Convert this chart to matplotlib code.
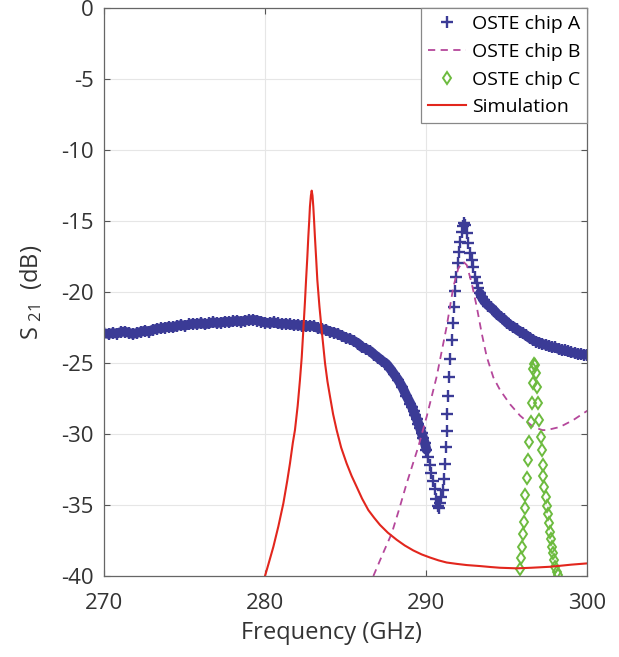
import matplotlib
matplotlib.use("Agg")
import matplotlib.pyplot as plt

plt.rcParams['font.family'] = ['Open Sans', 'DejaVu Sans']
plt.rcParams['axes.unicode_minus'] = False
plt.rcParams['mathtext.default'] = 'regular'

# OSTE chip A (measured, uniform-ish sweep; dense band + sparse resonance)
freq_a = [270.00, 270.25, 270.50, 270.75, 271.00, 271.25, 271.50, 271.75,
          272.00, 272.25, 272.50, 272.75, 273.00, 273.25, 273.50, 273.75,
          274.00, 274.25, 274.50, 274.75, 275.00, 275.25, 275.50, 275.75,
          276.00, 276.25, 276.50, 276.75, 277.00, 277.25, 277.50, 277.75,
          278.00, 278.25, 278.50, 278.75, 279.00, 279.25, 279.50, 279.75,
          280.00, 280.25, 280.50, 280.75, 281.00, 281.25, 281.50, 281.75,
          282.00, 282.25, 282.50, 282.75, 283.00, 283.25, 283.50, 283.75,
          284.00, 284.25, 284.50, 284.75, 285.00, 285.25, 285.50, 285.75,
          286.00, 286.25, 286.50, 286.75, 287.00, 287.25, 287.50, 287.75,
          288.00, 288.25, 288.50, 288.75, 289.00, 289.10, 289.20, 289.30,
          289.40, 289.50, 289.60, 289.70, 289.80, 289.90, 290.00, 290.10,
          290.20, 290.30, 290.40, 290.50, 290.60, 290.70, 290.75,
          290.82, 290.90, 291.00, 291.09, 291.15, 291.21, 291.25, 291.29,
          291.36, 291.42, 291.49, 291.56, 291.63, 291.69, 291.76, 291.85,
          291.93, 292.02, 292.10, 292.19, 292.27, 292.35, 292.42, 292.50,
          292.60, 292.70, 292.81, 292.91, 293.01, 293.12, 293.22, 293.32,
          293.43, 293.55, 293.70, 293.85, 294.00, 294.20, 294.40, 294.60,
          294.80, 295.00, 295.20, 295.40, 295.60, 295.80, 296.00, 296.20,
          296.40, 296.60, 296.80, 297.00, 297.20, 297.40, 297.60, 297.80,
          298.00, 298.20, 298.40, 298.60, 298.80, 299.00, 299.20, 299.40,
          299.60, 299.80, 300.00]
s21_a = [-22.90, -22.95, -22.88, -22.92, -22.82, -22.78, -22.86, -22.95,
         -22.88, -22.80, -22.72, -22.78, -22.65, -22.58, -22.55, -22.50,
         -22.44, -22.48, -22.38, -22.32, -22.36, -22.28, -22.22, -22.25,
         -22.18, -22.26, -22.20, -22.12, -22.18, -22.14, -22.08, -22.12,
         -22.05, -22.02, -22.08, -22.00, -21.98, -21.95, -22.00, -22.08,
         -22.15, -22.18, -22.12, -22.20, -22.24, -22.22, -22.28, -22.32,
         -22.30, -22.38, -22.42, -22.36, -22.40, -22.52, -22.60, -22.66,
         -22.78, -22.85, -22.95, -23.08, -23.22, -23.30, -23.45, -23.62,
         -23.88, -24.00, -24.15, -24.40, -24.62, -24.85, -25.05, -25.40,
         -25.80, -26.20, -26.70, -27.30, -27.85, -28.10, -28.40, -28.68,
         -28.95, -29.28, -29.60, -29.95, -30.30, -30.65, -31.10, -31.60,
         -32.20, -32.75, -33.30, -33.90, -34.55, -35.05, -35.20,
         -34.85, -34.45, -33.95, -33.19, -32.14, -30.94, -29.79, -28.59,
         -27.32, -26.00, -24.72, -23.35, -22.16, -21.03, -19.95, -18.90,
         -17.95, -17.15, -16.45, -15.74, -15.35, -15.15, -15.30, -15.86,
         -16.56, -17.27, -17.74, -18.21, -18.91, -19.38, -19.73, -20.08,
         -20.35, -20.58, -20.78, -20.95, -21.08, -21.30, -21.55, -21.75,
         -21.92, -22.15, -22.32, -22.45, -22.62, -22.78, -22.90, -23.05,
         -23.22, -23.36, -23.48, -23.55, -23.65, -23.72, -23.80, -23.88,
         -23.90, -24.00, -24.08, -24.10, -24.18, -24.25, -24.28, -24.35,
         -24.38, -24.40, -24.42]

# OSTE chip B
freq_b = [286.70, 287.30, 287.84, 288.30, 288.77, 289.49, 290.01, 290.63,
          291.25, 291.67, 291.98, 292.29, 292.50, 292.81, 293.12, 293.43,
          293.74, 294.15, 294.57, 295.19, 295.81, 296.63, 297.20, 297.47,
          298.29, 299.12, 299.74, 300.00]
s21_b = [-40.0, -38.4, -37.0, -35.3, -33.47, -30.9, -28.78, -25.96,
         -22.44, -19.62, -18.3, -17.86, -18.09, -19.38, -21.03, -22.9,
         -24.55, -26.0, -26.9, -27.9, -28.7, -29.5, -29.72, -29.72,
         -29.5, -29.01, -28.54, -28.35]

# OSTE chip C
freq_c = [295.81, 295.85, 295.91, 295.97, 296.06, 296.12, 296.14, 296.22,
          296.28, 296.37, 296.47, 296.53, 296.60, 296.63, 296.70, 296.74,
          296.80, 296.88, 296.94, 297.01, 297.09, 297.16, 297.22, 297.26,
          297.32, 297.42, 297.50, 297.57, 297.63, 297.67, 297.73, 297.78,
          297.84, 297.90, 297.98, 298.09, 298.17]
s21_c = [-39.54, -38.76, -37.99, -37.05, -36.18, -35.19, -34.28, -33.12,
         -31.83, -30.54, -29.13, -27.79, -26.38, -25.44, -25.07, -25.14,
         -25.68, -26.71, -27.84, -29.01, -30.19, -31.13, -32.18, -32.96,
         -33.71, -34.42, -35.07, -35.64, -36.25, -36.88, -37.42, -37.94,
         -38.41, -38.88, -39.35, -39.70, -39.95]

# Simulation
freq_sim = [279.97, 280.20, 280.49, 280.80, 281.11, 281.35, 281.52, 281.70,
            281.83, 282.00, 282.14, 282.25, 282.35, 282.45, 282.52, 282.60,
            282.66, 282.72, 282.76, 282.82, 282.87, 282.92, 282.97, 283.02,
            283.07, 283.15, 283.22, 283.35, 283.49, 283.60, 283.70, 283.85,
            284.01, 284.20, 284.42, 284.70, 285.04, 285.35, 285.66, 286.00,
            286.39, 286.75, 287.11, 287.60, 288.15, 288.65, 289.18, 289.70,
            290.22, 290.75, 291.25, 291.90, 292.50, 293.32, 294.00, 294.57,
            295.60, 296.50, 297.67, 298.30, 299.00, 300.00]
s21_sim = [-40.0, -39.1, -37.94, -36.5, -34.88, -33.3, -32.07, -30.6,
           -29.72, -28.0, -26.2, -24.6, -22.67, -20.7, -19.15, -17.5,
           -16.1, -14.9, -13.98, -13.2, -12.85, -13.2, -13.98, -15.0,
           -16.1, -17.7, -19.15, -21.0, -22.67, -23.9, -25.02, -26.3,
           -27.37, -28.6, -29.72, -30.95, -32.07, -32.95, -33.71, -34.55,
           -35.36, -35.9, -36.4, -36.95, -37.45, -37.85, -38.2, -38.48,
           -38.7, -38.9, -39.05, -39.15, -39.23, -39.3, -39.37, -39.42,
           -39.46, -39.42, -39.35, -39.28, -39.2, -39.11]

xticks = [270, 280, 290, 300]
yticks = [0, -5, -10, -15, -20, -25, -30, -35, -40]

blue = '#3b3b96'

fig = plt.figure(figsize=(6.19, 6.57), dpi=100)
ax = fig.add_axes([0.1688, 0.1233, 0.7803, 0.8641])

# dense parts of the sweep read as a solid band of markers
left = [(f, s) for f, s in zip(freq_a, s21_a) if f <= 290.0]
right = [(f, s) for f, s in zip(freq_a, s21_a) if f >= 293.3]
for part in (left, right):
    ax.plot([p[0] for p in part], [p[1] for p in part], color=blue,
            linewidth=7, solid_capstyle='round')
ax.plot(freq_a, s21_a, linestyle='none', marker='+', markersize=8,
        markeredgewidth=1.7, color=blue, label='OSTE chip A')
ax.plot(freq_b, s21_b, linestyle=(0, (4, 3)), linewidth=1.3,
        color='#b5479b', label='OSTE chip B')
ax.plot(freq_c, s21_c, linestyle='none', marker='d', markersize=6.5,
        markerfacecolor='none', markeredgewidth=1.4, color='#6dbb3f',
        label='OSTE chip C')
ax.plot(freq_sim, s21_sim, linewidth=1.5, color='#e2261d', label='Simulation')

ax.set_xlim(270, 300)
ax.set_ylim(-40, 0)
ax.set_xticks(xticks)
ax.set_yticks(yticks)
ax.grid(True, color='#e6e6e6', linewidth=0.8)
ax.set_axisbelow(True)
ax.tick_params(direction='in', length=4, top=True, right=True,
               color='#555555', labelsize=16, labelcolor='#333333')
ax.tick_params(axis='x', pad=12)
ax.tick_params(axis='y', pad=8)
for sp in ax.spines.values():
    sp.set_color('#666666')
    sp.set_linewidth(0.9)

ax.set_xlabel('Frequency (GHz)', fontsize=17, color='#333333')
ax.set_ylabel('S$_{\\ 21}$  (dB)', fontsize=17, color='#333333')
ax.xaxis.set_label_coords(0.47, -0.08)
ax.yaxis.label.set_va('center')
ax.yaxis.set_label_coords(-0.152, 0.5)

leg = ax.legend(loc='upper right', borderaxespad=0, fontsize=14,
                fancybox=False, edgecolor='#888888', framealpha=1,
                handlelength=2.0, handletextpad=0.3, labelspacing=0.5,
                borderpad=0.35)
leg.get_frame().set_linewidth(0.9)

fig.savefig('out.png', dpi=100)
